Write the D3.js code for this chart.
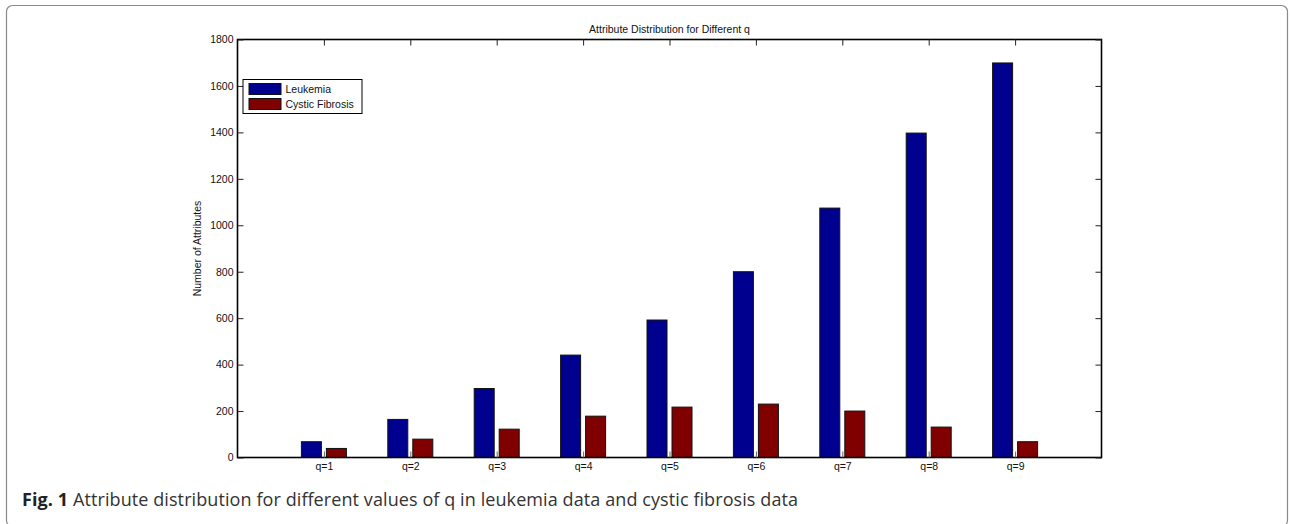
<!DOCTYPE html>
<html>
<head>
<meta charset="utf-8">
<script src="https://cdn.jsdelivr.net/npm/d3@7"></script>
<style>
  html, body { margin: 0; padding: 0; background: #fff; }
  svg { display: block; }
</style>
</head>
<body>
<svg id="fig" width="1290" height="524"></svg>
<script>
// Categories and series
const categories = ["q=1", "q=2", "q=3", "q=4", "q=5", "q=6", "q=7", "q=8", "q=9"];
const leukemia = [68, 164, 297, 441, 592, 800, 1074, 1397, 1699];
const cysticFibrosis = [39, 79, 122, 178, 217, 230, 200, 131, 68];
const seriesNames = ["Leukemia", "Cystic Fibrosis"];
const yTicks = [0, 200, 400, 600, 800, 1000, 1200, 1400, 1600, 1800];

const colors = ["#00008f", "#800000"];
const svg = d3.select("#fig");

// Outer frame of the figure (bottom edge runs past the page)
svg.append("rect")
  .attr("x", 6.5).attr("y", 5.5)
  .attr("width", 1281).attr("height", 521)
  .attr("rx", 6).attr("ry", 6)
  .attr("fill", "none")
  .attr("stroke", "#8a8a8a")
  .attr("stroke-width", 1.2);

const plot = { left: 237.5, right: 1101.5, top: 39.5, bottom: 457.5 };

const x = d3.scaleLinear().domain([0, categories.length + 1]).range([plot.left, plot.right]);
const y = d3.scaleLinear().domain([0, 1800]).range([plot.bottom, plot.top]);

const font = "'Liberation Sans', Arial, Helvetica, sans-serif";
const fs = 10.5;
const g = svg.append("g");

// Bars
const barW = 20, gap = 5;
const offsets = [-(barW / 2 + gap / 2), (barW / 2 + gap / 2)];
[leukemia, cysticFibrosis].forEach((vals, si) => {
  g.append("g").selectAll("rect")
    .data(vals)
    .join("rect")
    .attr("x", (d, i) => x(i + 1) + offsets[si] - barW / 2)
    .attr("y", d => y(d))
    .attr("width", barW)
    .attr("height", d => y(0) - y(d))
    .attr("fill", colors[si])
    .attr("stroke", "#111")
    .attr("stroke-width", 1);
});

// Axis box
g.append("rect")
  .attr("x", plot.left).attr("y", plot.top)
  .attr("width", plot.right - plot.left).attr("height", plot.bottom - plot.top)
  .attr("fill", "none").attr("stroke", "#000").attr("stroke-width", 1.6);

// Left y axis (ticks pointing inward)
const yAxisL = d3.axisLeft(y).tickValues(yTicks).tickSize(-6).tickPadding(4).tickFormat(d3.format("d"));
const gl = g.append("g").attr("transform", `translate(${plot.left},0)`).call(yAxisL);
gl.select(".domain").remove();
gl.selectAll("line").attr("stroke", "#222").attr("stroke-width", 1);
gl.selectAll("text").attr("font-family", font).attr("font-size", fs).attr("fill", "#111");

// Right y axis ticks
const yAxisR = d3.axisRight(y).tickValues(yTicks).tickSize(-6).tickFormat("");
const gr = g.append("g").attr("transform", `translate(${plot.right},0)`).call(yAxisR);
gr.select(".domain").remove();
gr.selectAll("line").attr("stroke", "#222");

// Bottom x axis: small inner ticks and category labels
const xAxisB = d3.axisBottom(x).tickValues(d3.range(1, categories.length + 1))
  .tickSize(-6).tickPadding(5).tickFormat((d) => categories[d - 1]);
const gb = g.append("g").attr("transform", `translate(0,${plot.bottom})`).call(xAxisB);
gb.select(".domain").remove();
gb.selectAll("line").attr("stroke", "#666");
gb.selectAll("text").attr("font-family", font).attr("font-size", fs).attr("fill", "#111");

// Top x axis ticks
const xAxisT = d3.axisTop(x).tickValues(d3.range(1, categories.length + 1)).tickSize(-6).tickFormat("");
const gt = g.append("g").attr("transform", `translate(0,${plot.top})`).call(xAxisT);
gt.select(".domain").remove();
gt.selectAll("line").attr("stroke", "#222");

// Title
svg.append("text")
  .attr("x", (plot.left + plot.right) / 2).attr("y", 32.5)
  .attr("text-anchor", "middle")
  .attr("font-family", font).attr("font-size", fs).attr("fill", "#111")
  .text("Attribute Distribution for Different q");

// Y label
svg.append("text")
  .attr("transform", `translate(201,${(plot.top + plot.bottom) / 2}) rotate(-90)`)
  .attr("text-anchor", "middle")
  .attr("font-family", font).attr("font-size", fs).attr("fill", "#111")
  .text("Number of Attributes");

// Legend
const lg = svg.append("g").attr("transform", "translate(242.5,79)");
lg.append("rect").attr("x", 0.5).attr("y", 0.5).attr("width", 119).attr("height", 34)
  .attr("fill", "#fff").attr("stroke", "#000").attr("stroke-width", 1);
seriesNames.forEach((name, i) => {
  lg.append("rect")
    .attr("x", 6.5).attr("y", 4.5 + i * 15)
    .attr("width", 32).attr("height", 11)
    .attr("fill", colors[i]).attr("stroke", "#111");
  lg.append("text")
    .attr("x", 43).attr("y", 14 + i * 15)
    .attr("font-family", font).attr("font-size", fs).attr("fill", "#111")
    .text(name);
});

// Caption
const cap = svg.append("text")
  .attr("x", 22).attr("y", 506)
  .attr("font-family", "'Open Sans', 'Noto Sans', sans-serif")
  .attr("font-size", 18).attr("fill", "#333")
  .attr("textLength", 776).attr("lengthAdjust", "spacing");
cap.append("tspan").attr("font-weight", "bold").attr("fill", "#222").text("Fig. 1");
cap.append("tspan").text(" Attribute distribution for different values of q in leukemia data and cystic fibrosis data");
</script>
</body>
</html>
